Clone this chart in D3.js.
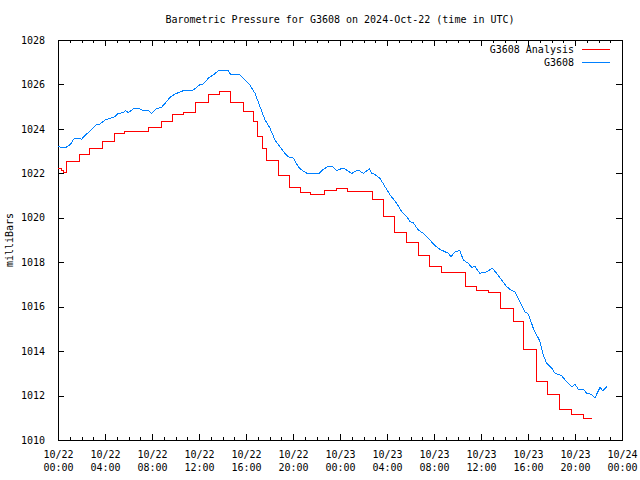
<!DOCTYPE html>
<html>
<head>
<meta charset="utf-8">
<script src="https://cdn.jsdelivr.net/npm/d3@7"></script>
<style>
  html, body { margin: 0; padding: 0; background: #fff; }
  svg { display: block; }
  text { font-family: "DejaVu Sans Mono", "Liberation Mono", monospace; font-size: 10px; fill: #000; }
</style>
</head>
<body>
<svg id="chart" width="640" height="480"></svg>
<script>
// ---- data (hours since 2024-10-22 00:00 UTC) ----
const titleText = "Barometric Pressure for G3608 on 2024-Oct-22 (time in UTC)";
const yLabel = "milliBars";
const seriesNames = ["G3608 Analysis", "G3608"];
const seriesColors = ["#ff0000", "#0080ff"];
const yTicks = [1010, 1012, 1014, 1016, 1018, 1020, 1022, 1024, 1026, 1028];

const analysisHours = [0, 0.28, 0.5, 0.74, 1.79, 2.72, 3.77, 4.79, 5.7, 7.74, 8.77, 9.76, 10.7,
  11.72, 12.79, 13.73, 14.72, 15.77, 16.6, 16.96, 17.4, 17.75, 18.75, 19.74, 20.68, 21.45,
  22.66, 23.72, 24.66, 26.75, 27.69, 28.68, 29.68, 30.66, 31.6, 32.66, 34.64, 35.64, 36.62,
  37.7, 38.75, 39.6, 40.7, 41.68, 42.66, 43.66, 44.7, 45.45];
const analysisValues = [1022.23, 1022.12, 1022.05, 1022.55, 1022.86, 1023.13, 1023.45, 1023.80, 1023.90,
  1024.07, 1024.34, 1024.67, 1024.73, 1025.20, 1025.57, 1025.70, 1025.20, 1024.80, 1024.35, 1023.65,
  1023.13, 1022.60, 1021.92, 1021.38, 1021.16, 1021.05, 1021.25, 1021.31, 1021.20, 1020.83, 1020.08,
  1019.33, 1018.88, 1018.32, 1017.83, 1017.55, 1016.93, 1016.75, 1016.65, 1015.90, 1015.32, 1014.08,
  1012.65, 1012.03, 1011.38, 1011.17, 1010.95, 1010.95];

const stationHours = [0, 0.6, 0.88, 1.17, 1.3, 1.73, 2.02, 2.15, 2.44, 2.87, 3.29, 3.57, 4.0, 4.43,
  4.85, 5.13, 5.56, 5.76, 5.98, 6.41, 6.98, 7.26, 7.69, 7.97, 8.4, 8.77, 9.05, 9.53, 9.96, 10.66,
  11.51, 12.09, 12.37, 12.79, 13.22, 13.64, 14.49, 14.7, 15.49, 15.91, 16.34, 16.77, 17.19, 17.62,
  18.04, 18.47, 18.89, 19.32, 19.6, 20.03, 20.45, 20.74, 21.19, 22.21, 22.58, 23.06, 23.32, 23.72,
  24.28, 25.0, 25.56, 25.98, 26.49, 26.72, 26.92, 27.4, 27.83, 28.26, 28.83, 29.25, 29.68, 29.96,
  30.24, 30.66, 31.09, 31.51, 32.09, 32.51, 32.94, 33.22, 33.45, 33.79, 34.21, 34.49, 34.92, 35.21,
  35.49, 35.91, 36.49, 36.96, 37.34, 37.76, 38.19, 38.61, 38.89, 39.32, 39.74, 40.03, 40.45, 41.02,
  41.3, 41.59, 42.02, 42.3, 42.87, 43.29, 43.72, 44.0, 44.28, 44.71, 45.0, 45.42, 45.7, 46.13,
  46.36, 46.7];
const stationValues = [1023.20, 1023.15, 1023.23, 1023.38, 1023.54, 1023.57, 1023.54, 1023.62, 1023.77,
  1023.98, 1024.21, 1024.22, 1024.40, 1024.48, 1024.55, 1024.70, 1024.73, 1024.82, 1024.73, 1024.90,
  1024.90, 1024.82, 1024.82, 1024.70, 1024.93, 1024.95, 1025.11, 1025.42, 1025.57, 1025.72, 1025.75,
  1026.00, 1026.02, 1026.28, 1026.43, 1026.61, 1026.64, 1026.43, 1026.43, 1026.20, 1025.97, 1025.60,
  1025.00, 1024.40, 1024.03, 1023.50, 1023.20, 1022.90, 1022.75, 1022.68, 1022.30, 1022.15, 1022.00,
  1022.00, 1022.18, 1022.33, 1022.33, 1022.13, 1022.24, 1022.00, 1022.15, 1022.00, 1022.20, 1022.00,
  1021.97, 1021.78, 1021.40, 1021.03, 1020.65, 1020.28, 1020.05, 1019.82, 1019.78, 1019.45, 1019.30,
  1019.08, 1018.74, 1018.58, 1018.47, 1018.40, 1018.25, 1018.47, 1018.52, 1018.10, 1017.95, 1017.77,
  1017.80, 1017.50, 1017.57, 1017.73, 1017.50, 1017.20, 1016.90, 1016.72, 1016.67, 1016.22, 1015.77,
  1015.67, 1015.03, 1014.43, 1013.83, 1013.45, 1013.23, 1013.00, 1012.89, 1012.62, 1012.40, 1012.50,
  1012.29, 1012.29, 1012.10, 1012.05, 1011.90, 1012.37, 1012.22, 1012.40];

// ---- layout ----
const svg = d3.select("#chart");
const L = 58, R = 622, T = 40, B = 440;
const start = new Date(Date.UTC(2024, 9, 22, 0, 0));
const end = new Date(Date.UTC(2024, 9, 24, 0, 0));
const hr = h => new Date(start.getTime() + h * 3600000);

const x = d3.scaleUtc().domain([start, end]).range([L, R]);
const y = d3.scaleLinear().domain([1010, 1028]).range([B, T]);

const fmtDay = d3.utcFormat("%m/%d");
const fmtTime = d3.utcFormat("%H:%M");

// minor ticks (hourly) bottom and top
svg.append("g").attr("transform", `translate(0,${B})`)
  .call(d3.axisBottom(x).ticks(d3.utcHour.every(1)).tickSize(-3).tickFormat(""))
  .call(g => g.select(".domain").remove());
svg.append("g").attr("transform", `translate(0,${T})`)
  .call(d3.axisTop(x).ticks(d3.utcHour.every(1)).tickSize(-3).tickFormat(""))
  .call(g => g.select(".domain").remove());

// major ticks bottom with two-line labels
const xb = svg.append("g").attr("transform", `translate(0,${B})`)
  .call(d3.axisBottom(x).ticks(d3.utcHour.every(4)).tickSize(-6).tickPadding(14))
  .call(g => g.select(".domain").remove());
xb.selectAll(".tick text").each(function(d) {
  const t = d3.select(this);
  t.text(null).attr("y", 0).attr("dy", null);
  t.append("tspan").attr("x", 0).attr("y", 18).text(fmtDay(d));
  t.append("tspan").attr("x", 0).attr("y", 31).text(fmtTime(d));
});
svg.append("g").attr("transform", `translate(0,${T})`)
  .call(d3.axisTop(x).ticks(d3.utcHour.every(4)).tickSize(-6).tickFormat(""))
  .call(g => g.select(".domain").remove());

// y axes
svg.append("g").attr("transform", `translate(${L},0)`)
  .call(d3.axisLeft(y).tickValues(yTicks).tickSize(-6).tickPadding(13).tickFormat(d3.format("d")))
  .call(g => g.select(".domain").remove());
svg.append("g").attr("transform", `translate(${R},0)`)
  .call(d3.axisRight(y).tickValues(yTicks).tickSize(-6).tickFormat(""))
  .call(g => g.select(".domain").remove());

svg.selectAll(".tick line").attr("stroke", "#000").attr("shape-rendering", "crispEdges");
svg.selectAll(".tick text").style("font-family", "'DejaVu Sans Mono', monospace").style("font-size", "10px").attr("fill", "#000");

// frame
svg.append("rect").attr("x", L).attr("y", T).attr("width", R - L).attr("height", B - T)
  .attr("fill", "none").attr("stroke", "#000").attr("shape-rendering", "crispEdges");

// series
const analysis = analysisHours.map((h, i) => ({ t: hr(h), v: analysisValues[i] }));
const station = stationHours.map((h, i) => ({ t: hr(h), v: stationValues[i] }));

svg.append("path").datum(analysis)
  .attr("fill", "none").attr("stroke", seriesColors[0]).attr("stroke-width", 1)
  .attr("shape-rendering", "crispEdges")
  .attr("d", d3.line().x(d => x(d.t)).y(d => y(d.v)).curve(d3.curveStepAfter));
svg.append("path").datum(station)
  .attr("fill", "none").attr("stroke", seriesColors[1]).attr("stroke-width", 1)
  .attr("shape-rendering", "crispEdges")
  .attr("d", d3.line().x(d => x(d.t)).y(d => y(d.v)));

// title & y label
svg.append("text").attr("x", 340).attr("y", 23).attr("text-anchor", "middle").text(titleText);
svg.append("text").attr("transform", "translate(13,240) rotate(-90)").attr("text-anchor", "middle").text(yLabel);

// legend
const lg = svg.append("g");
seriesNames.forEach((name, i) => {
  const yy = 49 + i * 13;
  lg.append("text").attr("x", 574).attr("y", yy + 3.5).attr("text-anchor", "end").text(name);
  lg.append("line").attr("x1", 582).attr("x2", 610).attr("y1", yy).attr("y2", yy)
    .attr("stroke", seriesColors[i]).attr("shape-rendering", "crispEdges");
});
</script>
</body>
</html>
